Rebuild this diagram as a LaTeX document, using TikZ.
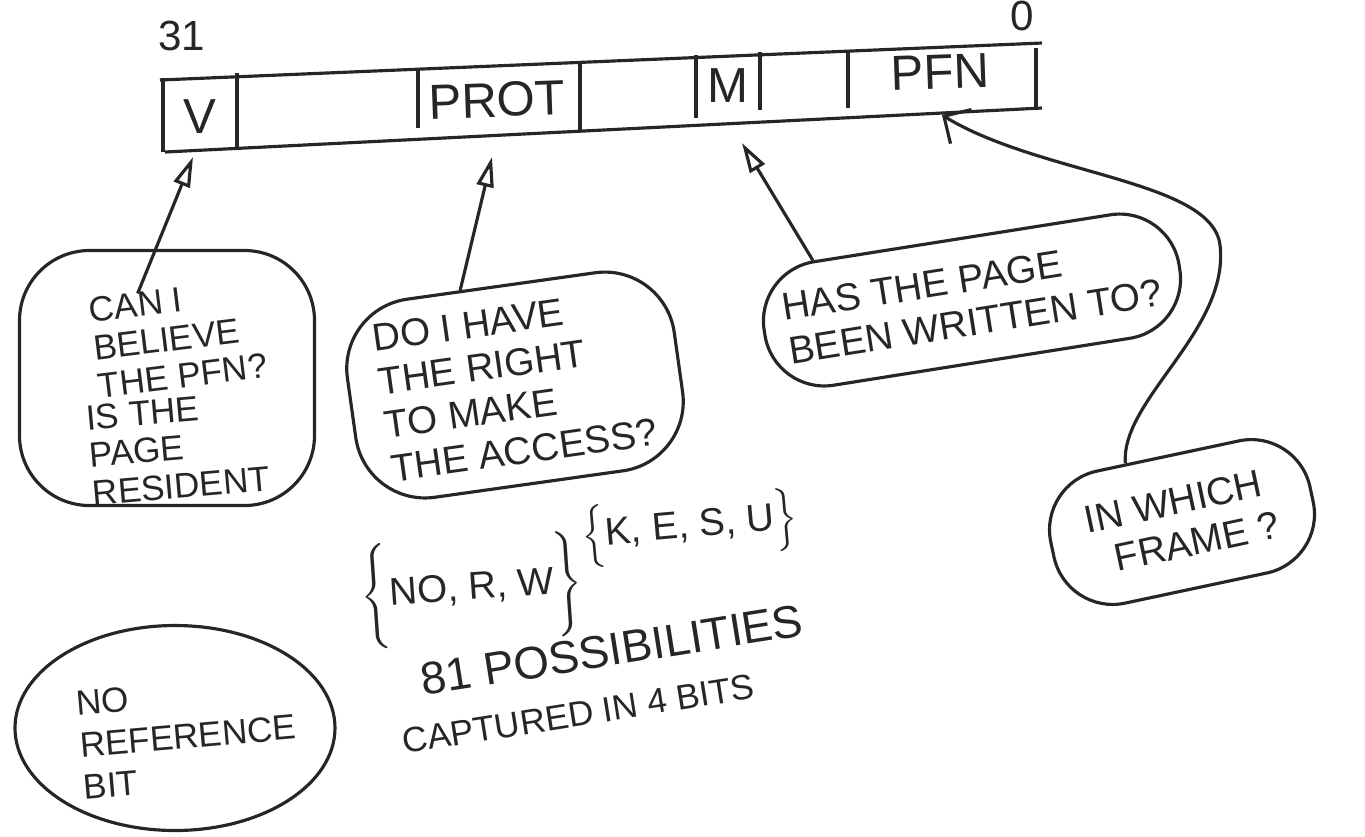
\documentclass[tikz,border=0pt]{standalone}
\usepackage{fontspec}
\setmainfont{Liberation Sans}
\usetikzlibrary{arrows.meta, positioning, shapes.geometric}
\def\penWidth{0.9pt}
\def\bubbleR{0.7cm}
\def\noteSize{\fontsize{11}{12.5}\selectfont}
\def\smallNote{\fontsize{10}{10.8}\selectfont}

\begin{document}
\begin{tikzpicture}[
    line width=\penWidth,
    pen/.style={draw=black!85},
    bubble/.style={pen, rectangle, rounded corners=\bubbleR},
    note/.style={font=\noteSize, text=black!85, align=left, inner sep=0pt},
    field/.style={font=\fontsize{14}{14}\selectfont, text=black!85, inner sep=0pt},
    >={Triangle[open,length=3mm,width=1.7mm]}
]
\useasboundingbox (0,0) rectangle (13.65,-8.36);

% the page table entry
\draw[pen] (1.60,-0.80) -- (10.42,-0.43);
\draw[pen] (1.65,-1.52) -- (10.42,-1.08);
\foreach \x/\yt/\yb in {1.63/-0.78/-1.52, 2.37/-0.73/-1.50, 4.18/-0.68/-1.28,
    5.80/-0.62/-1.30, 6.96/-0.55/-1.18, 7.60/-0.52/-1.10, 8.48/-0.50/-1.08,
    10.36/-0.48/-1.10}
    \draw[pen] (\x,\yt) -- (\x,\yb);

\node[field, font=\fontsize{12}{12}\selectfont] (bitHi) at (1.82,-0.36) {31};
\node[field, font=\fontsize{12}{12}\selectfont] (bitLo) at (10.22,-0.16) {0};
\node[field] (valid) at (2.00,-1.17) {V};
\node[field, rotate=2] (prot) at (4.97,-1.00) {PROT};
\node[field] (mod) at (7.28,-0.86) {M};
\node[field, rotate=2] (pfn) at (9.40,-0.72) {PFN};

\coordinate (validTip) at (1.93,-1.57);
\coordinate (protTip) at (4.92,-1.57);
\coordinate (modTip) at (7.42,-1.43);
\coordinate (pfnTip) at (9.42,-1.15);

% bubbles
\node[bubble, minimum width=2.95cm, minimum height=2.55cm] (believeBox) at (1.67,-3.78) {};
\node[note, font=\smallNote, rotate=7] (believeTxt) at (1.78,-3.38) {CAN I\\BELIEVE\\THE PFN?};
\node[note, font=\smallNote, rotate=5] (residentTxt) at (1.78,-4.48) {IS THE\\PAGE\\RESIDENT};

\node[bubble, font=\noteSize, text=black!85, align=left,
    minimum width=3.3cm, minimum height=2.0cm, rotate=8] (rightBox) at (5.15,-3.85)
    {DO I HAVE\\THE RIGHT\\TO MAKE\\THE ACCESS?};

\node[bubble, font=\noteSize, text=black!85, align=left, rounded corners=0.6cm,
    minimum width=4.2cm, minimum height=1.25cm, rotate=9] (writtenBox) at (9.72,-3.0)
    {HAS THE PAGE\\BEEN WRITTEN TO?};

\node[bubble, font=\noteSize, text=black!85, align=left, rounded corners=0.6cm,
    minimum width=2.65cm, minimum height=1.35cm, rotate=12] (frameBox) at (11.82,-5.22)
    {IN WHICH\\\ \ FRAME ?};

\node[pen, ellipse, minimum width=3.2cm, minimum height=2.05cm] (refBox) at (1.75,-7.28) {};
\node[note, font=\fontsize{10}{12}\selectfont, rotate=5] (refTxt) at (1.88,-7.36) {NO\\REFERENCE\\BIT};

% protection sets
\node[note, rotate=4] (accessSet) at (4.72,-5.90) {$\Bigg\{$NO, R, W$\Bigg\}$};
\node[note, rotate=5] (modeSet) at (6.90,-5.28) {$\Big\{$K, E, S, U$\Big\}$};
\node[note, font=\fontsize{13}{13}\selectfont, rotate=9] (countTxt) at (6.12,-6.50) {81 POSSIBILITIES};
\node[note, font=\fontsize{10}{10}\selectfont, rotate=9] (bitsTxt) at (5.78,-7.14) {CAPTURED IN 4 BITS};

% arrows up to the fields
\draw[pen, ->, shorten <=-0.48cm] (believeBox.95) -- (validTip);
\draw[pen, ->] (rightBox.112) -- (protTip);
\draw[pen, ->] (writtenBox.157) -- (modTip);
\draw[pen, -{Straight Barb[length=2mm]}] (frameBox.122)
    .. controls (11.20,-4.00) and (12.30,-3.30) .. (12.20,-2.45)
    .. controls (12.12,-1.80) and (10.40,-1.75) .. (pfnTip);
\end{tikzpicture}
\end{document}
